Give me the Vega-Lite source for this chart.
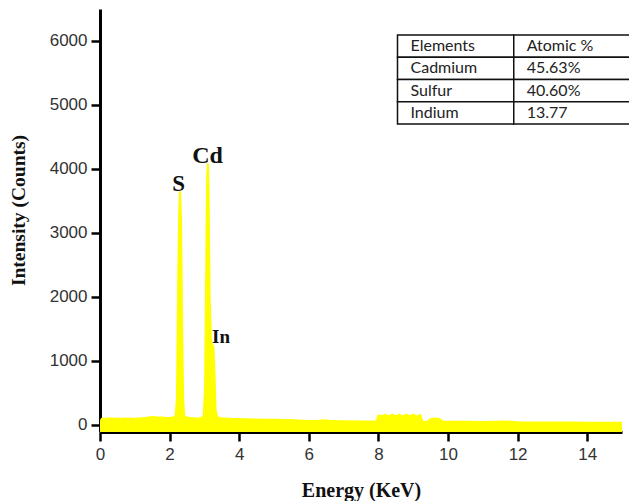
{
  "$schema": "https://vega.github.io/schema/vega-lite/v6.json",
  "width": 522,
  "height": 423,
  "autosize": "none",
  "padding": {"left": 100, "top": 9, "right": 7, "bottom": 69},
  "background": "white",
  "config": {"view": {"stroke": null}},
  "datasets": {
    "spectrum": [
      {"energy": 0, "counts": 40}, {"energy": 0.05, "counts": 95}, {"energy": 0.1, "counts": 100},
      {"energy": 0.2, "counts": 95}, {"energy": 0.3, "counts": 105}, {"energy": 0.4, "counts": 98},
      {"energy": 0.5, "counts": 100}, {"energy": 0.6, "counts": 95}, {"energy": 0.7, "counts": 102},
      {"energy": 0.8, "counts": 96}, {"energy": 0.9, "counts": 100}, {"energy": 1.0, "counts": 95},
      {"energy": 1.1, "counts": 100}, {"energy": 1.2, "counts": 105}, {"energy": 1.3, "counts": 110},
      {"energy": 1.4, "counts": 118}, {"energy": 1.5, "counts": 125}, {"energy": 1.6, "counts": 120},
      {"energy": 1.7, "counts": 118}, {"energy": 1.8, "counts": 115}, {"energy": 1.9, "counts": 110},
      {"energy": 2.0, "counts": 112}, {"energy": 2.1, "counts": 118}, {"energy": 2.17, "counts": 130},
      {"energy": 2.21, "counts": 400}, {"energy": 2.25, "counts": 2400}, {"energy": 2.28, "counts": 3400},
      {"energy": 2.30, "counts": 3650}, {"energy": 2.33, "counts": 3200}, {"energy": 2.36, "counts": 1500},
      {"energy": 2.39, "counts": 400}, {"energy": 2.42, "counts": 140}, {"energy": 2.5, "counts": 115},
      {"energy": 2.6, "counts": 108}, {"energy": 2.7, "counts": 105}, {"energy": 2.8, "counts": 100},
      {"energy": 2.9, "counts": 105}, {"energy": 2.98, "counts": 140}, {"energy": 3.02, "counts": 600},
      {"energy": 3.06, "counts": 2900}, {"energy": 3.08, "counts": 3900}, {"energy": 3.10, "counts": 4090},
      {"energy": 3.12, "counts": 3700}, {"energy": 3.15, "counts": 2000}, {"energy": 3.19, "counts": 1300},
      {"energy": 3.23, "counts": 1250}, {"energy": 3.26, "counts": 1220}, {"energy": 3.29, "counts": 800},
      {"energy": 3.32, "counts": 250}, {"energy": 3.36, "counts": 130}, {"energy": 3.45, "counts": 105},
      {"energy": 3.6, "counts": 100}, {"energy": 3.8, "counts": 95}, {"energy": 4.0, "counts": 92},
      {"energy": 4.2, "counts": 90}, {"energy": 4.5, "counts": 85}, {"energy": 4.8, "counts": 82},
      {"energy": 5.0, "counts": 80}, {"energy": 5.3, "counts": 76}, {"energy": 5.6, "counts": 72},
      {"energy": 6.0, "counts": 62}, {"energy": 6.3, "counts": 65}, {"energy": 6.5, "counts": 75},
      {"energy": 6.6, "counts": 60}, {"energy": 7.0, "counts": 57}, {"energy": 7.5, "counts": 55},
      {"energy": 7.95, "counts": 55}, {"energy": 8.0, "counts": 150}, {"energy": 8.1, "counts": 135},
      {"energy": 8.2, "counts": 160}, {"energy": 8.3, "counts": 130}, {"energy": 8.4, "counts": 160},
      {"energy": 8.5, "counts": 135}, {"energy": 8.6, "counts": 160}, {"energy": 8.7, "counts": 130},
      {"energy": 8.8, "counts": 160}, {"energy": 8.9, "counts": 135}, {"energy": 9.0, "counts": 160},
      {"energy": 9.1, "counts": 130}, {"energy": 9.2, "counts": 155}, {"energy": 9.27, "counts": 50},
      {"energy": 9.4, "counts": 48}, {"energy": 9.5, "counts": 90}, {"energy": 9.6, "counts": 100},
      {"energy": 9.75, "counts": 95}, {"energy": 9.85, "counts": 55}, {"energy": 10.0, "counts": 52},
      {"energy": 10.5, "counts": 50}, {"energy": 11.0, "counts": 48}, {"energy": 11.4, "counts": 52},
      {"energy": 11.6, "counts": 56}, {"energy": 11.8, "counts": 50}, {"energy": 12.0, "counts": 44},
      {"energy": 12.5, "counts": 40}, {"energy": 13.0, "counts": 38}, {"energy": 13.5, "counts": 38},
      {"energy": 14.0, "counts": 36}, {"energy": 14.5, "counts": 36}, {"energy": 15.0, "counts": 36}
    ],
    "peaks": [
      {"label": "S", "energy": 2.26, "counts": 3760, "size": 23},
      {"label": "Cd", "energy": 3.09, "counts": 4205, "size": 24},
      {"label": "In", "energy": 3.48, "counts": 1367, "size": 19}
    ],
    "table": [
      {"row": 0, "col": "Elements", "text": "Elements"},
      {"row": 0, "col": "Atomic %", "text": "Atomic %"},
      {"row": 1, "col": "Elements", "text": "Cadmium"},
      {"row": 1, "col": "Atomic %", "text": "45.63%"},
      {"row": 2, "col": "Elements", "text": "Sulfur"},
      {"row": 2, "col": "Atomic %", "text": "40.60%"},
      {"row": 3, "col": "Elements", "text": "Indium"},
      {"row": 3, "col": "Atomic %", "text": "13.77"}
    ]
  },
  "layer": [
    {
      "layer": [
        {
          "data": {"name": "spectrum"},
          "mark": {"type": "area", "color": "#ffff00", "interpolate": "linear", "clip": true},
          "encoding": {
            "x": {
              "field": "energy", "type": "quantitative",
              "scale": {"domain": [0, 15], "nice": false, "zero": false},
              "axis": {
                "title": "Energy (KeV)",
                "values": [0,1,2,3,4,5,6,7,8,9,10,11,12,13,14,15],
                "labelExpr": "datum.value % 2 === 0 ? datum.label : ''",
                "grid": false,
                "domainColor": "#000", "domainWidth": 3,
                "tickColor": "#000", "tickWidth": 2.5,
                "tickSize": {"condition": {"test": "datum.value % 2 === 0", "value": 9}, "value": 5},
                "labelFont": "Liberation Sans", "labelFontSize": 17, "labelColor": "#333",
                "labelPadding": 5, "labelFlush": false, "labelOverlap": false,
                "titleFont": "Liberation Serif", "titleFontSize": 20, "titleFontWeight": "bold",
                "titleColor": "#111", "titleY": 58, "titleBaseline": "middle"
              }
            },
            "y": {
              "field": "counts", "type": "quantitative",
              "scale": {"domain": [-110, 6500], "nice": false, "zero": false},
              "axis": {
                "title": "Intensity (Counts)",
                "values": [0,500,1000,1500,2000,2500,3000,3500,4000,4500,5000,5500,6000,6500],
                "labelExpr": "datum.value % 1000 === 0 && datum.value <= 6000 ? datum.label : ''",
                "format": "d",
                "grid": false,
                "domainColor": "#000", "domainWidth": 3,
                "tickColor": "#000", "tickWidth": 2.5,
                "tickSize": {"condition": {"test": "datum.value % 1000 === 0", "value": 9}, "value": 5},
                "labelFont": "Liberation Sans", "labelFontSize": 17, "labelColor": "#333",
                "labelPadding": 4, "labelFlush": false, "labelOverlap": false,
                "titleFont": "Liberation Serif", "titleFontSize": 19.5, "titleFontWeight": "bold",
                "titleColor": "#111", "titleX": -82, "titleY": 201,
                "titleAngle": -90, "titleAlign": "center", "titleBaseline": "middle"
              }
            },
            "y2": {"datum": -110}
          }
        },
        {
          "data": {"name": "spectrum"},
          "mark": {"type": "line", "color": "#ffff00", "strokeWidth": 2, "clip": true},
          "encoding": {
            "x": {"field": "energy", "type": "quantitative"},
            "y": {"field": "counts", "type": "quantitative"}
          }
        },
        {
          "data": {"name": "peaks"},
          "mark": {"type": "text", "font": "Liberation Serif", "fontWeight": "bold", "color": "#111", "baseline": "middle", "align": "center"},
          "encoding": {
            "x": {"field": "energy", "type": "quantitative"},
            "y": {"field": "counts", "type": "quantitative"},
            "text": {"field": "label"},
            "size": {"field": "size", "type": "quantitative", "scale": null}
          }
        }
      ]
    },
    {
      "data": {"name": "table"},
      "layer": [
        {
          "mark": {"type": "rect", "fill": "white", "stroke": "#111", "strokeWidth": 1.5},
          "encoding": {
            "x": {
              "field": "col", "type": "nominal",
              "scale": {"type": "band", "domain": ["Elements", "Atomic %"], "range": [297.5, 530], "paddingInner": 0, "paddingOuter": 0},
              "axis": null
            },
            "y": {
              "field": "row", "type": "ordinal",
              "scale": {"type": "band", "domain": [0, 1, 2, 3], "range": [26, 115], "paddingInner": 0, "paddingOuter": 0},
              "axis": null
            }
          }
        },
        {
          "mark": {"type": "text", "font": "Lato", "fontSize": 16, "color": "#222", "align": "left", "baseline": "middle", "dx": 13},
          "encoding": {
            "x": {"field": "col", "type": "nominal", "bandPosition": 0, "axis": null},
            "y": {"field": "row", "type": "ordinal", "bandPosition": 0.5, "axis": null},
            "text": {"field": "text"}
          }
        }
      ]
    }
  ],
  "resolve": {"scale": {"x": "independent", "y": "independent"}, "axis": {"x": "independent", "y": "independent"}}
}
